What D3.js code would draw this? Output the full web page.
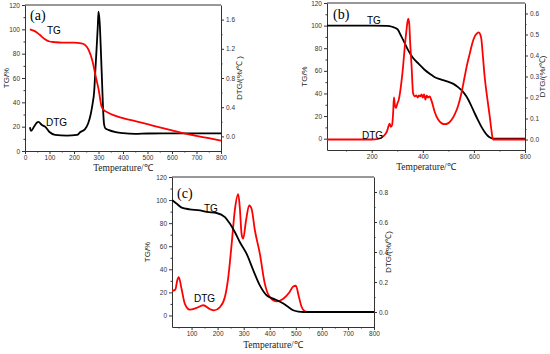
<!DOCTYPE html>
<html><head><meta charset="utf-8">
<script src="https://cdn.jsdelivr.net/npm/d3@7/dist/d3.min.js"></script>
<style>
body{margin:0;background:#fff;}
svg{display:block;}
.tick text{font-family:"Liberation Sans",Arial,sans-serif;font-size:6.5px;fill:#333;}
.domain,.tick line{stroke:#333;stroke-width:1;}
</style></head><body>
<svg id="c" width="550" height="354"></svg>
<script>
// ---- Panel (a) ----
const aTGTemp = [20,40,60,80,100,120,150,200,230,246,260,274,288,301,312,320,340,400,450,500,550,600,650,700,750,800];
const aTG     = [100,98.5,95.5,92,90,89.5,89,89,88.5,87,83,75,62,50,37,34,31.5,27,24.5,22,19.5,17,14.5,12.5,10.5,8.5];
const aDTGTemp = [20,25,38,49,55,69,83,100,123,171,212,226,245,258,268,276,282,288,293,297,300,305,310,315,319,323,328,340,370,400,450,500,600,700,800];
const aDTG     = [0.125,0.075,0.14,0.19,0.2,0.155,0.13,0.06,0.02,0.01,0.02,0.06,0.1,0.18,0.3,0.45,0.6,0.95,1.25,1.5,1.71,1.55,1.15,0.7,0.35,0.16,0.11,0.09,0.06,0.045,0.035,0.04,0.042,0.042,0.042];
// ---- Panel (b) ----
const bTGTemp = [25,100,200,260,280,300,316,330,342,362,385,407,430,447,470,498,520,538,555,571,588,603,617,629,642,655,665,675,690,800];
const bTG     = [100,100,100,99.8,99,97,90.5,84,78.5,71.3,66,61,57,54.4,52.5,50.5,48.5,45.6,42,37.3,30,22.5,16,10.7,6,2.4,0.8,0,0,0];
const bDTGTemp = [25,200,225,245,260,265,270,275,280,284,287,291,295,300,306,315,323,330,336,340,343,347,351,356,362,369,375,380,385,390,395,400,405,410,415,420,427,434,447,460,473,486,500,512,525,538,551,564,574,584,594,603,612,619,625,629,635,642,652,662,668,675,680,800];
const bDTG     = [0,0,0.003,0.015,0.04,0.06,0.075,0.06,0.07,0.13,0.2,0.16,0.15,0.17,0.19,0.26,0.35,0.45,0.52,0.56,0.575,0.55,0.45,0.35,0.22,0.205,0.21,0.2,0.21,0.205,0.215,0.2,0.215,0.19,0.21,0.2,0.205,0.185,0.13,0.095,0.078,0.073,0.078,0.093,0.12,0.16,0.22,0.3,0.36,0.41,0.46,0.49,0.505,0.51,0.5,0.48,0.4,0.3,0.2,0.11,0.05,0,0,0];
// ---- Panel (c) ----
const cTGTemp = [25,42,62,93,132,158,196,228,247,266,285,311,337,362,388,413,430,452,470,490,510,529,600,800];
const cTG     = [100,97,93.5,92,91,89.7,88.8,85.3,79.6,72.3,63.7,53.6,39.1,26.1,17.5,14.6,13,10.3,7.5,4.5,3.3,3,3,3];
const cDTGTemp = [25,38,45,51,61,74,93,119,145,170,186,209,228,241,254,266,279,285,292,298,309,321,330,343,362,381,400,426,452,475,490,500,512,522,535,550,800];
const cDTG     = [0.14,0.15,0.21,0.233,0.16,0.056,0.016,0.027,0.045,0.02,0.011,0.033,0.1,0.233,0.456,0.678,0.785,0.7,0.52,0.489,0.61,0.71,0.69,0.545,0.389,0.189,0.1,0.071,0.089,0.13,0.17,0.175,0.1,0.035,0.005,0,0];

const aXTicks=[0,100,200,300,400,500,600,700,800], aXMinor=[50,150,250,350,450,550,650,750];
const bXTicks=[200,400,600,800], bXMinor=[100,300,500,700];
const cXTicks=[100,200,300,400,500,600,700,800], cXMinor=[50,150,250,350,450,550,650,750];
const tgTicks=[0,20,40,60,80,100,120], tgMinor=[10,30,50,70,90,110];
const aRTicks=[0,0.4,0.8,1.2,1.6], aRMinor=[0.2,0.6,1.0,1.4];
const bRTicks=[0,0.1,0.2,0.3,0.4,0.5,0.6], bRMinor=[0.05,0.15,0.25,0.35,0.45,0.55];
const cRTicks=[0,0.2,0.4,0.6,0.8], cRMinor=[0.1,0.3,0.5,0.7];

const svg=d3.select("#c");

function panel(p){
  const g=svg.append("g");
  const x=d3.scaleLinear().domain(p.xd).range([p.L,p.R]);
  const yl=d3.scaleLinear().domain(p.yld).range([p.B,p.T]);
  const yr=d3.scaleLinear().domain(p.yrd).range([p.B,p.T]);
  g.append("line").attr("x1",p.L).attr("x2",p.R).attr("y1",p.T).attr("y2",p.T).attr("stroke","#333");
  g.append("g").attr("transform",`translate(0,${p.B})`).call(d3.axisBottom(x).tickValues(p.xt).tickFormat(d3.format("d")).tickSize(3).tickSizeOuter(0).tickPadding(1.5));
  g.append("g").attr("transform",`translate(0,${p.B})`).call(d3.axisBottom(x).tickValues(p.xm).tickFormat("").tickSize(1.5)).select(".domain").remove();
  g.append("g").attr("transform",`translate(${p.L},0)`).call(d3.axisLeft(yl).tickValues(tgTicks).tickFormat(d3.format("d")).tickSize(3).tickSizeOuter(0).tickPadding(2));
  g.append("g").attr("transform",`translate(${p.L},0)`).call(d3.axisLeft(yl).tickValues(tgMinor).tickFormat("").tickSize(1.5)).select(".domain").remove();
  g.append("g").attr("transform",`translate(${p.R},0)`).call(d3.axisRight(yr).tickValues(p.rt).tickFormat(d3.format(".1f")).tickSize(3).tickSizeOuter(0).tickPadding(2));
  g.append("g").attr("transform",`translate(${p.R},0)`).call(d3.axisRight(yr).tickValues(p.rm).tickFormat("").tickSize(1.5)).select(".domain").remove();
  const ltg=d3.line().x(d=>x(d[0])).y(d=>yl(d[1])).curve(d3.curveMonotoneX);
  const ldt=d3.line().x(d=>x(d[0])).y(d=>yr(d[1])).curve(d3.curveMonotoneX);
  const tgData=d3.zip(p.tgT,p.tg), dtData=d3.zip(p.dtT,p.dt);
  const clip="clip"+p.id;
  g.append("clipPath").attr("id",clip).append("rect").attr("x",p.L).attr("y",p.T).attr("width",p.R-p.L).attr("height",p.B-p.T);
  const cg=g.append("g").attr("clip-path",`url(#${clip})`);
  const draw=[
    ()=>cg.append("path").datum(tgData).attr("d",ltg).attr("fill","none").attr("stroke",p.tgColor).attr("stroke-width",1.8),
    ()=>cg.append("path").datum(dtData).attr("d",ldt).attr("fill","none").attr("stroke",p.dtColor).attr("stroke-width",1.8)
  ];
  (p.order||[0,1]).forEach(i=>draw[i]());
  g.append("text").attr("x",p.lab[0]).attr("y",p.lab[1]).text(p.label)
    .attr("font-family","'Liberation Serif','Times New Roman',serif").attr("font-size",14);
  g.append("text").attr("x",p.tgLab[0]).attr("y",p.tgLab[1]).text("TG")
    .attr("font-family","'Liberation Sans',Arial,sans-serif").attr("font-size",10);
  g.append("text").attr("x",p.dtLab[0]).attr("y",p.dtLab[1]).text("DTG")
    .attr("font-family","'Liberation Sans',Arial,sans-serif").attr("font-size",10);
  g.append("text").attr("transform",`translate(${p.L-p.lOff},${(p.T+p.B)/2}) rotate(-90)`).attr("text-anchor","middle")
    .text("TG/%").attr("font-family","'Liberation Sans',Arial,sans-serif").attr("font-size",8).attr("fill","#222");
  g.append("text").attr("transform",`translate(${p.R+p.rOff},${(p.T+p.B)/2}) rotate(-90)`).attr("text-anchor","middle")
    .text(p.rlabel).attr("font-family","'Liberation Sans',Arial,sans-serif").attr("font-size",8).attr("fill","#222");
  g.append("text").attr("x",(p.L+p.R)/2).attr("y",p.B+p.xOff).attr("text-anchor","middle")
    .text("Temperature/℃").attr("font-family","'Liberation Serif','Times New Roman',serif").attr("font-size",9.5).attr("fill","#222");
}

panel({id:"a",L:25,R:221,T:5,B:151,xd:[0,800],yld:[0,120],yrd:[-0.2,1.8],xt:aXTicks,xm:aXMinor,rt:aRTicks,rm:aRMinor,
  tgT:aTGTemp,tg:aTG,dtT:aDTGTemp,dt:aDTG,tgColor:"#f00",dtColor:"#000",order:[1,0],
  label:"(a)",lab:[30,20],tgLab:[47,34],dtLab:[46,126],rlabel:"DTG/(%/℃ )",lOff:16,rOff:21,xOff:20});
panel({id:"b",L:327,R:525,T:3,B:150,xd:[25,800],yld:[-10,120],yrd:[-0.05,0.65],xt:bXTicks,xm:bXMinor,rt:bRTicks,rm:bRMinor,
  tgT:bTGTemp,tg:bTG,dtT:bDTGTemp,dt:bDTG,tgColor:"#000",dtColor:"#f00",order:[0,1],
  label:"(b)",lab:[333,19],tgLab:[367,24],dtLab:[362,139],rlabel:"DTG/(%/℃)",lOff:20,rOff:20,xOff:20});
panel({id:"c",L:172,R:374,T:177,B:327,xd:[25,800],yld:[-10,120],yrd:[-0.1,0.9],xt:cXTicks,xm:cXMinor,rt:cRTicks,rm:cRMinor,
  tgT:cTGTemp,tg:cTG,dtT:cDTGTemp,dt:cDTG,tgColor:"#000",dtColor:"#f00",order:[1,0],
  label:"(c)",lab:[177,198],tgLab:[204,212],dtLab:[194,302],rlabel:"DTG/(%/℃)",lOff:22,rOff:17,xOff:21});
</script></body></html>
